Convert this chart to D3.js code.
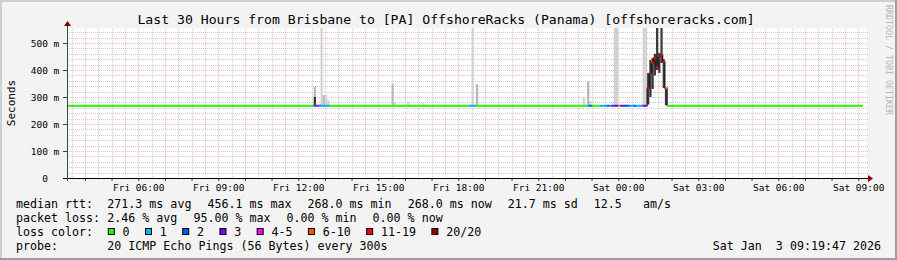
<!DOCTYPE html>
<html>
<head>
<meta charset="utf-8">
<script src="https://cdn.jsdelivr.net/npm/d3@7"></script>
<style>
  html, body { margin: 0; padding: 0; background: #f3f3f3; }
  svg { display: block; }
  text { font-family: "DejaVu Sans Mono", monospace; white-space: pre; fill: #000; }
</style>
</head>
<body>
<svg id="chart" width="897" height="260"></svg>
<script>
"use strict";

var parseStep = d3.timeParse('%Y-%m-%d %H:%M');
var parseTime = d3.timeParse('%Y-%m-%d %H:%M:%S');

var title = 'Last 30 Hours from Brisbane to [PA] OffshoreRacks (Panama) [offshoreracks.com]';
var startTime = '2026-01-02 03:19:47';
var endTime = '2026-01-03 09:19:47';
var yTicks = [0, 100, 200, 300, 400, 500];

// median rtt in ms, value holds until the next entry
var medianSteps = [
  ['2026-01-02 03:20', 268],
  ['2026-01-03 01:05', 333],
  ['2026-01-03 01:10', 387],
  ['2026-01-03 01:15', 426],
  ['2026-01-03 01:20', 444],
  ['2026-01-03 01:25', 410],
  ['2026-01-03 01:30', 450],
  ['2026-01-03 01:35', 456],
  ['2026-01-03 01:40', 430],
  ['2026-01-03 01:45', 333],
  ['2026-01-03 01:50', 268],
  ['2026-01-03 09:10', 268]
];

// lost pings out of 20 (steps not listed had no loss)
var lossSteps = [
  ['2026-01-02 12:35', 2], ['2026-01-02 12:40', 2], ['2026-01-02 12:45', 4],
  ['2026-01-02 12:50', 1], ['2026-01-02 12:55', 1], ['2026-01-02 13:00', 1],
  ['2026-01-02 13:05', 1],
  ['2026-01-02 18:25', 1], ['2026-01-02 18:30', 1], ['2026-01-02 18:35', 1],
  ['2026-01-02 22:50', 1], ['2026-01-02 22:55', 2],
  ['2026-01-02 23:20', 1], ['2026-01-02 23:25', 1], ['2026-01-02 23:30', 1],
  ['2026-01-02 23:35', 2], ['2026-01-02 23:40', 1], ['2026-01-02 23:45', 3],
  ['2026-01-02 23:50', 3], ['2026-01-02 23:55', 3],
  ['2026-01-03 00:05', 3], ['2026-01-03 00:10', 3], ['2026-01-03 00:15', 2],
  ['2026-01-03 00:20', 2], ['2026-01-03 00:25', 1], ['2026-01-03 00:30', 1],
  ['2026-01-03 00:35', 2], ['2026-01-03 00:40', 1], ['2026-01-03 00:45', 1],
  ['2026-01-03 00:50', 1], ['2026-01-03 00:55', 3], ['2026-01-03 01:00', 3],
  ['2026-01-03 01:05', 19], ['2026-01-03 01:10', 19], ['2026-01-03 01:15', 19],
  ['2026-01-03 01:20', 19], ['2026-01-03 01:25', 19], ['2026-01-03 01:30', 19],
  ['2026-01-03 01:35', 19], ['2026-01-03 01:40', 19], ['2026-01-03 01:45', 8]
];

// smoke: step, low ms, high ms, shade
var smokeSteps = [
  ['2026-01-02 12:35', 268, 338, 'mid'],
  ['2026-01-02 12:35', 268, 300, 'dark'],
  ['2026-01-02 12:50', 268, 600, 'light'],
  ['2026-01-02 12:55', 268, 307, 'mid'],
  ['2026-01-02 13:00', 268, 307, 'light'],
  ['2026-01-02 13:05', 268, 289, 'light'],
  ['2026-01-02 15:30', 268, 348, 'mid'],
  ['2026-01-02 15:35', 268, 282, 'light'],
  ['2026-01-02 16:05', 268, 282, 'light'],
  ['2026-01-02 16:40', 268, 276, 'light'],
  ['2026-01-02 18:30', 268, 600, 'light'],
  ['2026-01-02 18:40', 268, 348, 'mid'],
  ['2026-01-02 22:40', 268, 297, 'light'],
  ['2026-01-02 22:50', 268, 359, 'mid'],
  ['2026-01-02 22:55', 268, 285, 'light'],
  ['2026-01-02 23:50', 268, 600, 'light'],
  ['2026-01-02 23:55', 268, 600, 'light'],
  ['2026-01-03 00:55', 268, 600, 'light'],
  ['2026-01-03 01:00', 268, 600, 'light'],
  ['2026-01-03 01:05', 272, 389, 'dark'],
  ['2026-01-03 01:10', 300, 437, 'dark'],
  ['2026-01-03 01:15', 330, 445, 'dark'],
  ['2026-01-03 01:20', 380, 460, 'dark'],
  ['2026-01-03 01:25', 400, 600, 'dark'],
  ['2026-01-03 01:30', 389, 463, 'dark'],
  ['2026-01-03 01:35', 426, 600, 'dark'],
  ['2026-01-03 01:40', 333, 440, 'dark'],
  ['2026-01-03 01:45', 270, 333, 'dark']
];

var lossLabels = ['0', '1', '2', '3', '4-5', '6-10', '11-19', '20/20'];
var rttLabel = 'median rtt:';
var rttStats = ['271.3 ms avg', '456.1 ms max', '268.0 ms min', '268.0 ms now', '21.7 ms sd', '12.5   am/s'];
var lossLabel = 'packet loss:';
var lossStats = ['2.46 % avg', '95.00 % max', '0.00 % min', '0.00 % now'];
var colorLabel = 'loss color:';
var probeLabel = 'probe:';
var probeText = '20 ICMP Echo Pings (56 Bytes) every 300s';
var stampText = 'Sat Jan  3 09:19:47 2026';

// styles
var lossColors = ['#26ff00', '#00b8ff', '#0059ff', '#7e00ff', '#ff00ff', '#ff5500', '#ff0000', '#a10000'];
var shades = { light: '#d2d2d2', mid: '#b8b8b8', dark: '#3a3a3a' };

function lossClass(n) {
  if (n <= 3) return n;
  if (n <= 5) return 4;
  if (n <= 10) return 5;
  if (n <= 19) return 6;
  return 7;
}

function draw() {
  var svg = d3.select('#chart');
  var W = 897, H = 260;
  var left = 67, right = 867, top = 28, bottom = 178;

  svg.append('rect').attr('width', W).attr('height', H).attr('fill', '#f3f3f3');
  svg.append('rect').attr('x', 0).attr('y', 0).attr('width', W).attr('height', 2).attr('fill', '#cfcfcf');
  svg.append('rect').attr('x', 0).attr('y', 0).attr('width', 2).attr('height', H).attr('fill', '#cfcfcf');
  svg.append('rect').attr('x', 0).attr('y', H - 2).attr('width', W).attr('height', 2).attr('fill', '#9e9e9e');
  svg.append('rect').attr('x', W - 2).attr('y', 0).attr('width', 2).attr('height', H).attr('fill', '#9e9e9e');

  svg.append('rect').attr('x', left).attr('y', top)
    .attr('width', right - left).attr('height', bottom - top).attr('fill', '#ffffff');

  var t0 = parseTime(startTime), t1 = parseTime(endTime);
  var x = d3.scaleTime().domain([t0, t1]).range([left, right]);
  var y = d3.scaleLinear().domain([0, 555.6]).range([bottom, top]).clamp(true);

  // grid
  var minorColor = 'rgba(143,143,143,0.45)';
  var majorColor = 'rgba(235,90,90,0.42)';
  var grid = svg.append('g');
  var halfHours = x.ticks(d3.timeMinute.every(30)).filter(function (d) { return d.getMinutes() === 30; });
  grid.selectAll('.vminor').data(halfHours).enter().append('line')
    .attr('x1', function (d) { return Math.round(x(d)) + 0.5; })
    .attr('x2', function (d) { return Math.round(x(d)) + 0.5; })
    .attr('y1', top).attr('y2', bottom)
    .attr('stroke', minorColor).attr('stroke-dasharray', '1,1');
  var minorY = d3.range(20, 556, 20).filter(function (v) { return v % 100 !== 0; });
  grid.selectAll('.hminor').data(minorY).enter().append('line')
    .attr('x1', left).attr('x2', right + 2)
    .attr('y1', function (d) { return Math.round(y(d)) + 0.5; })
    .attr('y2', function (d) { return Math.round(y(d)) + 0.5; })
    .attr('stroke', minorColor).attr('stroke-dasharray', '1,1');
  var hours = x.ticks(d3.timeHour.every(1));
  grid.selectAll('.vmajor').data(hours).enter().append('line')
    .attr('x1', function (d) { return Math.round(x(d)) + 0.5; })
    .attr('x2', function (d) { return Math.round(x(d)) + 0.5; })
    .attr('y1', top).attr('y2', bottom)
    .attr('stroke', majorColor).attr('stroke-dasharray', '1,1');
  grid.selectAll('.hmajor').data(yTicks.filter(function (v) { return v > 0; })).enter().append('line')
    .attr('x1', left).attr('x2', right + 2)
    .attr('y1', function (d) { return Math.round(y(d)) + 0.5; })
    .attr('y2', function (d) { return Math.round(y(d)) + 0.5; })
    .attr('stroke', majorColor).attr('stroke-dasharray', '1,1');

  // smoke
  var plot = svg.append('g');
  plot.selectAll('.smoke').data(smokeSteps).enter().append('rect')
    .attr('x', function (d) { return x(parseStep(d[0])); })
    .attr('width', function (d) {
      var s = parseStep(d[0]);
      return x(d3.timeMinute.offset(s, 5)) - x(s);
    })
    .attr('y', function (d) { return y(d[2]); })
    .attr('height', function (d) { return y(d[1]) - y(d[2]); })
    .attr('fill', function (d) { return shades[d[3]]; });

  // median, per 5 minute step
  var medianData = medianSteps.map(function (d) { return { t: parseStep(d[0]), v: d[1] }; });
  var lossMap = {};
  lossSteps.forEach(function (d) { lossMap[+parseStep(d[0])] = d[1]; });
  var bis = d3.bisector(function (d) { return d.t; }).right;
  var first = medianData[0].t, last = medianData[medianData.length - 1].t;
  var steps = d3.timeMinute.every(5).range(first, last).map(function (t) {
    var i = bis(medianData, t) - 1;
    return { t: t, v: medianData[i].v, loss: lossMap[+t] || 0 };
  });

  var stepLine = d3.line()
    .x(function (d) { return x(d.t); })
    .y(function (d) { return y(d.v); })
    .curve(d3.curveStepAfter);
  plot.append('path').datum(medianData)
    .attr('d', stepLine)
    .attr('fill', 'none').attr('stroke', '#1a1a1a').attr('stroke-width', 1.2);

  lossColors.forEach(function (col, k) {
    var dstr = '';
    steps.forEach(function (s) {
      if (lossClass(s.loss) !== k) return;
      var xa = x(s.t), xb = x(d3.timeMinute.offset(s.t, 5));
      dstr += 'M' + xa + ',' + y(s.v) + 'H' + xb;
    });
    if (dstr) {
      plot.append('path').attr('d', dstr)
        .attr('fill', 'none').attr('stroke', col).attr('stroke-width', 2);
    }
  });

  // axes
  var axisColor = '#2c4d43';
  var xaxis = d3.axisBottom(x)
    .ticks(d3.timeHour.every(1))
    .tickSize(3).tickSizeOuter(0).tickPadding(2.8)
    .tickFormat(function (d) { return d.getHours() % 3 === 0 ? d3.timeFormat('%a %H:%M')(d) : ''; });
  var gx = svg.append('g').attr('transform', 'translate(0,' + bottom + ')').call(xaxis);
  gx.select('.domain').remove();
  gx.selectAll('line').attr('stroke', axisColor);
  gx.selectAll('text').attr('font-size', 9.5).attr('font-family', '"DejaVu Sans Mono", monospace').attr('fill', '#000');

  var yaxis = d3.axisLeft(y)
    .tickValues(yTicks)
    .tickSize(4).tickSizeOuter(0).tickPadding(3.7)
    .tickFormat(function (d) { return d === 0 ? '0\u00a0\u00a0' : d + ' m'; });
  var gy = svg.append('g').attr('transform', 'translate(' + left + ',0)').call(yaxis);
  gy.select('.domain').remove();
  gy.selectAll('line').attr('stroke', axisColor);
  gy.selectAll('text').attr('font-size', 9.5).attr('font-family', '"DejaVu Sans Mono", monospace').attr('fill', '#000');

  svg.append('line').attr('x1', left - 4).attr('x2', right + 1)
    .attr('y1', bottom + 0.5).attr('y2', bottom + 0.5).attr('stroke', '#000');
  svg.append('line').attr('x1', left + 0.5).attr('x2', left + 0.5)
    .attr('y1', top - 3).attr('y2', bottom + 3).attr('stroke', axisColor);
  svg.append('path').attr('d', 'M' + (right + 1) + ',' + (bottom - 3) + 'L' + (right + 6) + ',' + (bottom + 0.5) + 'L' + (right + 1) + ',' + (bottom + 4) + 'Z')
    .attr('fill', '#7f0000');
  svg.append('path').attr('d', 'M' + (left - 3) + ',' + (top - 2) + 'L' + (left + 0.5) + ',' + (top - 7) + 'L' + (left + 4) + ',' + (top - 2) + 'Z')
    .attr('fill', '#7f0000');

  // title, unit label, watermark
  svg.append('text').attr('x', 446).attr('y', 24).attr('text-anchor', 'middle')
    .attr('font-size', 13.15).text(title);
  svg.append('text').attr('transform', 'translate(14.5,103) rotate(-90)')
    .attr('text-anchor', 'middle').attr('font-size', 11).text('Seconds');
  svg.append('text').attr('transform', 'translate(886,5) rotate(90)')
    .attr('font-size', 8.3).style('fill', '#b4b4b4').text('RRDTOOL / TOBI OETIKER');

  // legend
  var leg = svg.append('g').attr('font-size', 11.65);
  var valueX = 107.3, gap = 16;
  function statRow(yb, label, items) {
    leg.append('text').attr('x', 16).attr('y', yb).text(label);
    var cx = valueX;
    items.forEach(function (s) {
      var t = leg.append('text').attr('x', cx).attr('y', yb).text(s);
      cx += t.node().getComputedTextLength() + gap;
    });
  }
  statRow(207.7, rttLabel, rttStats);
  statRow(221.9, lossLabel, lossStats);

  leg.append('text').attr('x', 16).attr('y', 236.1).text(colorLabel);
  var cx = valueX;
  lossLabels.forEach(function (lab, k) {
    leg.append('rect').attr('x', cx + 1).attr('y', 228.5).attr('width', 6).attr('height', 6)
      .attr('fill', lossColors[k]).attr('stroke', '#000').attr('stroke-width', 1);
    var t = leg.append('text').attr('x', cx + 15.3).attr('y', 236.1).text(lab);
    cx += 15.3 + t.node().getComputedTextLength() + 14.9;
  });

  statRow(250.3, probeLabel, [probeText]);
  leg.append('text').attr('x', 881).attr('y', 250.3).attr('text-anchor', 'end').text(stampText);
}

draw();
</script>
</body>
</html>
